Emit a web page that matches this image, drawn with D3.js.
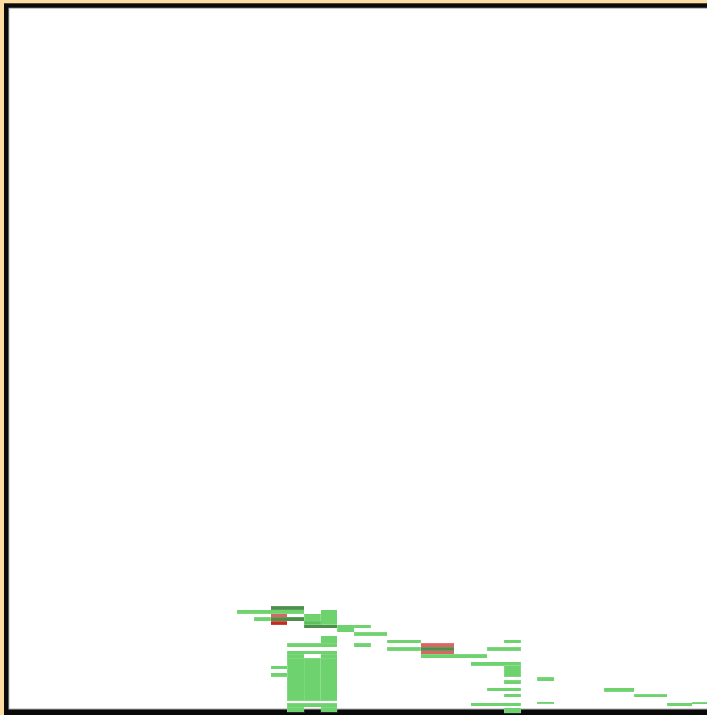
<!DOCTYPE html>
<html>
<head>
<meta charset="utf-8">
<script src="https://cdn.jsdelivr.net/npm/d3@7"></script>
<style>
  html, body { margin: 0; padding: 0; background: #ffdca2; overflow: hidden; }
  svg { position: absolute; left: 0; top: 0; }
</style>
</head>
<body>
<svg id="chart" width="707" height="715"></svg>
<script>
// ---- data: one entry per bar ----
const barStart  = [16, 14, 16, 15, 16, 16, 18, 18, 19, 18, 20, 21, 21, 19, 17, 23, 21, 25, 23, 25, 25, 25, 30, 29, 28, 30, 30, 29, 30, 28, 30, 32, 32, 36, 37.8, 39.8, 41.3, 17, 17, 19, 17, 18, 19, 16, 16, 17, 17, 19];
const barEnd    = [18, 18, 17, 16, 18, 17, 19, 19, 20, 20, 21, 22, 23, 20, 20, 25, 22, 27, 25, 27, 27, 29, 31, 31, 31, 31, 31, 31, 31, 31, 31, 33, 33, 37.8, 39.8, 41.3, 43, 20, 18, 20, 18, 19, 20, 17, 17, 20, 18, 20];
const barLane   = [27, 26, 25, 24, 24, 23, 24, 23, 23, 22, 21, 22, 20, 18, 17, 18, 17, 17, 16, 16, 15, 14, 18, 16, 12, 9, 7, 5, 3.5, 1, -0.9, 7.8, 1.7, 4.9, 3.5, 1, 1.6, 15, 14, 14, 2.5, 2.5, 2.5, 11, 9, 0.8, -0.6, -0.6];
const barSpan   = [1, 1, 1, 1, 1, 1, 2, 1, 4, 1, 2, 1, 1, 2, 1, 1, 1, 1, 1, 1, 1, 1, 1, 1, 1, 3, 1, 1, 0.9, 1, 1.45, 1.1, 0.55, 1.05, 0.75, 1, 0.55, 1, 1, 1, 11.5, 11.5, 11.5, 1, 1, 1, 1.4, 1.4];
const barStatus = ["mixed", "ok", "fail", "ok", "mixed", "failDark", "ok", "okDark", "ok", "mixed", "ok", "ok", "ok", "ok", "ok", "ok", "ok", "fail", "ok", "mixed", "fail", "ok", "ok", "ok", "ok", "ok", "ok", "ok", "ok", "ok", "ok", "ok", "ok", "ok", "ok", "ok", "ok", "ok", "ok", "ok", "ok", "ok", "ok", "ok", "ok", "ok", "ok", "ok"];

const statusNames  = ["ok", "okDark", "mixed", "fail", "failDark"];
const statusColors = ["#6ed36e", "#5cbd5c", "#4d8e4b", "#dc6462", "#c8291f"];

const bars = barStart.map((s, i) => ({
  start: s, end: barEnd[i], lane: barLane[i], span: barSpan[i], status: barStatus[i]
}));

const svg = d3.select("#chart");
const W = 707, H = 715;

// frame
svg.append("rect").attr("x", 0).attr("y", 0).attr("width", W).attr("height", H).attr("fill", "#ffdca2");
svg.append("rect").attr("x", 4).attr("y", 3.3).attr("width", W - 4).attr("height", H - 3.3).attr("fill", "#0a0a0a");
svg.append("rect").attr("x", 8.4).attr("y", 7.7).attr("width", W - 8.4).attr("height", 709.6 - 7.7).attr("fill", "#999");
svg.append("rect").attr("x", 9.3).attr("y", 8.6).attr("width", W - 9.3).attr("height", 708.6 - 8.6).attr("fill", "#ffffff");

// scales
const x = d3.scaleLinear().domain([0, 42]).range([4, 704]);
const y = d3.scaleLinear().domain([0, 190]).range([710, 6]);
const color = d3.scaleOrdinal().domain(statusNames).range(statusColors);
const order = { fail: 0, failDark: 0, ok: 1, okDark: 2, mixed: 2 };

svg.append("g")
  .attr("shape-rendering", "crispEdges")
  .selectAll("rect")
  .data(bars.slice().sort((a, b) => order[a.status] - order[b.status]))
  .join("rect")
  .attr("x", d => x(d.start))
  .attr("width", d => x(d.end) - x(d.start))
  .attr("y", d => y(d.lane + d.span))
  .attr("height", d => y(d.lane) - y(d.lane + d.span))
  .attr("fill", d => color(d.status))
  .attr("stroke", "#ffffff")
  .attr("stroke-opacity", 0.12)
  .attr("stroke-width", 1);
</script>
</body>
</html>
